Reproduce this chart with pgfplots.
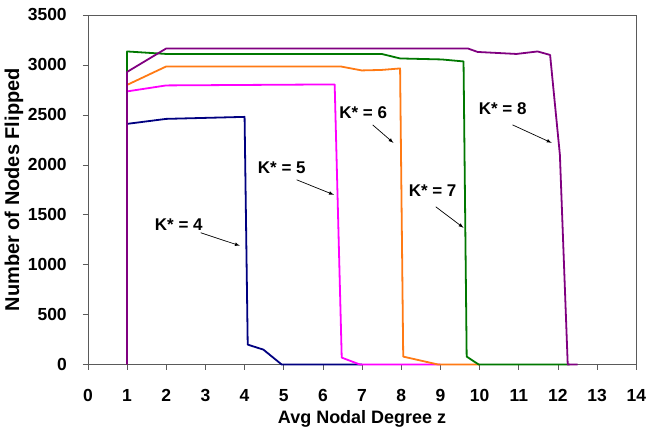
\documentclass[border=0pt]{standalone}
\usepackage{pgfplots}
\pgfplotsset{compat=1.18}
\usepackage{fontspec}
\setmainfont{Liberation Sans}
\definecolor{cnavy}{RGB}{0,0,128}
\definecolor{cmag}{RGB}{255,0,255}
\definecolor{corange}{RGB}{255,122,20}
\definecolor{cgreen}{RGB}{0,120,0}
\definecolor{cpurple}{RGB}{128,0,128}
\definecolor{cframe}{RGB}{90,90,90}
\begin{document}
\begin{tikzpicture}
\begin{axis}[
  scale only axis,
  width=549pt, height=350pt,
  xmin=0, xmax=14, ymin=0, ymax=3500,
  xtick={0,1,...,14}, ytick={0,500,...,3500},
  tick align=outside, tick pos=left,
  major tick length=5pt,
  axis line style={cframe, line width=0.8pt},
  every tick/.style={cframe, line width=0.6pt},
  tick label style={font=\fontsize{17.5}{19}\selectfont\bfseries, inner sep=0pt},
  xticklabel style={anchor=base, yshift=-32pt},
  yticklabel style={anchor=east, xshift=-16pt},
  /pgf/number format/assume math mode=true,
  /pgf/number format/1000 sep={},
  xlabel={Avg Nodal Degree z},
  ylabel={Number of Nodes Flipped},
  xlabel style={font=\fontsize{18}{20}\selectfont\bfseries, at={(axis description cs:0.5,-0.1686)}, anchor=base},
  ylabel style={font=\fontsize{20}{22}\selectfont\bfseries, at={(axis description cs:-0.1348,0.5)}, anchor=center, inner sep=0pt},
  clip=false,
  every axis plot/.append style={line width=1.8pt, mark=none, line join=round},
]
\path (axis description cs:-0.1603,-0.1886) rectangle (axis description cs:1.0164,1.0429);
\addplot[cnavy] coordinates {(1,0)(1,2410)(2,2460)(4,2480)(4.08,200)(4.48,150)(4.95,0)(7,0)};
\addplot[cmag] coordinates {(1,0)(1,2735)(2,2795)(6.3,2805)(6.48,70)(6.95,0)(9,0)};
\addplot[corange] coordinates {(1,0)(1,2800)(2,2985)(6.45,2985)(6.99,2945)(7.5,2950)(7.97,2965)(8.05,80)(8.95,0)(10,0)};
\addplot[cgreen] coordinates {(1,0)(1,3135)(2,3110)(7.5,3110)(7.97,3065)(9.03,3055)(9.59,3035)(9.67,80)(9.98,0)(12.3,0)};
\addplot[cpurple] coordinates {(1,0)(1,2930)(2,3165)(9.7,3165)(9.95,3130)(10.94,3110)(11.48,3135)(11.8,3100)(12.05,2100)(12.25,0)(12.5,0)};
\tikzset{lab/.style={font=\fontsize{17}{19}\selectfont\bfseries}, arr/.style={-latex, line width=0.7pt}}
\node[lab] at (axis cs:2.32,1400) {K* = 4};
\draw[arr] (axis cs:2.88,1320) -- (axis cs:3.88,1190);
\node[lab] at (axis cs:4.95,1970) {K* = 5};
\draw[arr] (axis cs:5.33,1850) -- (axis cs:6.28,1700);
\node[lab] at (axis cs:7.03,2520) {K* = 6};
\draw[arr] (axis cs:7.27,2400) -- (axis cs:7.8,2220);
\node[lab] at (axis cs:8.8,1740) {K* = 7};
\draw[arr] (axis cs:8.88,1580) -- (axis cs:9.59,1370);
\node[lab] at (axis cs:10.59,2560) {K* = 8};
\draw[arr] (axis cs:10.84,2400) -- (axis cs:11.84,2220);
\end{axis}
\end{tikzpicture}
\end{document}
